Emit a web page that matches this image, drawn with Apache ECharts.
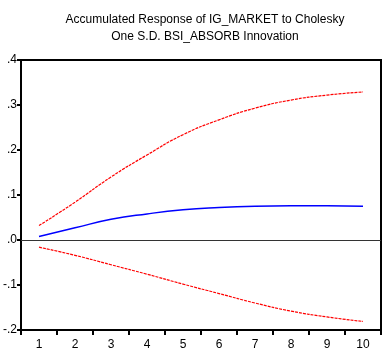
<!DOCTYPE html>
<html>
<head>
<meta charset="utf-8">
<script src="https://cdn.jsdelivr.net/npm/echarts@6/dist/echarts.min.js"></script>
<style>
  html, body { margin: 0; padding: 0; background: #fff; }
  #chart { width: 387px; height: 354px; }
</style>
</head>
<body>
<div id="chart"></div>
<script>
// periods on the x axis
const periods = ['1', '2', '3', '4', '5', '6', '7', '8', '9', '10'];

// accumulated response and its +/- 2 S.E. bands
const response = [0.008, 0.027, 0.046, 0.058, 0.067, 0.072, 0.075, 0.076, 0.076, 0.075];
const upperBand = [0.032, 0.084, 0.140, 0.189, 0.234, 0.267, 0.293, 0.311, 0.322, 0.329];
const lowerBand = [-0.016, -0.034, -0.055, -0.076, -0.098, -0.119, -0.140, -0.158, -0.171, -0.181];

const titleLines = ['Accumulated Response of IG_MARKET to Cholesky', 'One S.D. BSI_ABSORB Innovation'];

const fontName = '"Liberation Sans Narrow", "Liberation Sans", Arial, sans-serif';

const myChart = echarts.init(document.getElementById('chart'));

const option = {
  animation: false,
  backgroundColor: '#fff',
  title: {
    text: titleLines.join('\n'),
    left: 200,
    textAlign: 'center',
    top: 6,
    textStyle: {
      fontFamily: fontName,
      fontWeight: 'normal',
      fontSize: 12,
      lineHeight: 17,
      color: '#000'
    }
  },
  grid: {
    left: 19,
    right: 6,
    top: 60,
    bottom: 24,
    show: true,
    borderColor: '#000',
    borderWidth: 2
  },
  xAxis: {
    type: 'category',
    data: periods,
    boundaryGap: true,
    axisLine: { onZero: false, lineStyle: { color: '#000', width: 2 } },
    axisTick: { show: true, inside: false, length: 5, lineStyle: { color: '#000', width: 2 } },
    axisLabel: { color: '#000', fontFamily: fontName, fontSize: 12, margin: 9 },
    splitLine: { show: false }
  },
  yAxis: {
    type: 'value',
    min: -0.2,
    max: 0.4,
    interval: 0.1,
    axisLine: { show: true, lineStyle: { color: '#000', width: 2 } },
    axisTick: { show: true, inside: false, length: 4, lineStyle: { color: '#000', width: 2 } },
    axisLabel: {
      color: '#000',
      fontFamily: fontName,
      fontSize: 12,
      margin: 4,
      formatter: function (v) {
        const s = (Math.round(v * 10) / 10).toFixed(1);
        return s.replace('0.', '.');
      }
    },
    splitLine: { show: false }
  },
  series: [
    {
      name: 'upper',
      type: 'line',
      data: upperBand,
      smooth: true,
      showSymbol: false,
      lineStyle: { color: '#ff0000', width: 1.2, type: [3, 1] },
      markLine: {
        silent: true,
        symbol: 'none',
        label: { show: false },
        lineStyle: { color: '#333', width: 1, type: 'solid' },
        data: [{ yAxis: 0 }]
      }
    },
    {
      name: 'response',
      type: 'line',
      data: response,
      smooth: true,
      showSymbol: false,
      lineStyle: { color: '#0000ff', width: 1.5 }
    },
    {
      name: 'lower',
      type: 'line',
      data: lowerBand,
      smooth: true,
      showSymbol: false,
      lineStyle: { color: '#ff0000', width: 1.2, type: [3, 1] }
    }
  ]
};

myChart.setOption(option);
</script>
</body>
</html>
